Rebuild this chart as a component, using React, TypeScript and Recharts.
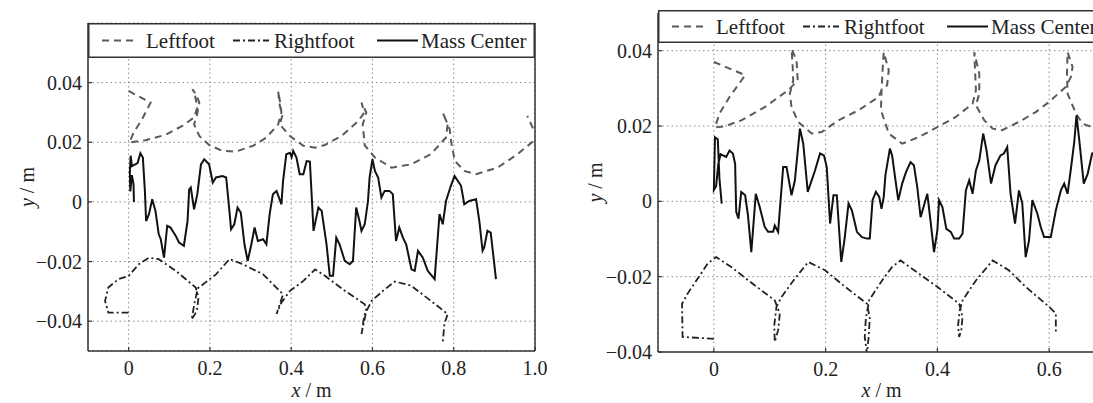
import React from "react";
import { LineChart, Line, XAxis, YAxis, CartesianGrid, Legend } from "recharts";

const FONT = "'Liberation Serif', 'DejaVu Serif', serif";

const seriesNames = ["Leftfoot", "Rightfoot", "Mass Center"];

// left panel
const leftXTicks = [0, 0.2, 0.4, 0.6, 0.8, 1.0];
const leftYTicks = [-0.04, -0.02, 0, 0.02, 0.04];

const leftFootA: [number, number][] = [
  [0, 0.0372], [0.054, 0.0333], [0.033, 0.0277], [0.012, 0.0232], [0.002, 0.0199],
  [0.041, 0.0207], [0.091, 0.0225], [0.132, 0.0255], [0.161, 0.0283], [0.169, 0.0316],
  [0.163, 0.036], [0.157, 0.0378], [0.166, 0.036], [0.174, 0.0333], [0.168, 0.029],
  [0.161, 0.026], [0.174, 0.0221], [0.198, 0.0191], [0.231, 0.0171], [0.264, 0.0169],
  [0.306, 0.0188], [0.339, 0.0216], [0.368, 0.026], [0.376, 0.03], [0.372, 0.034],
  [0.368, 0.0372], [0.371, 0.033], [0.378, 0.0288], [0.372, 0.026], [0.397, 0.0221],
  [0.43, 0.0188], [0.459, 0.0182], [0.483, 0.0191], [0.524, 0.0221], [0.565, 0.0271],
  [0.58, 0.03], [0.573, 0.0333], [0.585, 0.03], [0.576, 0.026], [0.581, 0.019],
  [0.606, 0.0149], [0.647, 0.0115], [0.695, 0.0126], [0.744, 0.016], [0.781, 0.0216],
  [0.785, 0.026], [0.773, 0.03], [0.79, 0.0244], [0.795, 0.019], [0.803, 0.0137],
  [0.826, 0.0104], [0.855, 0.0093], [0.908, 0.0115], [0.957, 0.016], [0.996, 0.0204],
  [1.008, 0.023], [0.996, 0.0244], [0.981, 0.0288],
];

const rightFootA: [number, number][] = [
  [0, -0.0371], [-0.05, -0.0371], [-0.058, -0.0332], [-0.05, -0.0287], [-0.025, -0.0259],
  [0, -0.0248], [0.025, -0.0209], [0.05, -0.0187], [0.074, -0.0192], [0.116, -0.0231],
  [0.165, -0.0287], [0.172, -0.032], [0.168, -0.0365], [0.155, -0.0395], [0.162, -0.034],
  [0.17, -0.029], [0.215, -0.0243], [0.248, -0.0192], [0.281, -0.0209], [0.331, -0.0243],
  [0.38, -0.031], [0.372, -0.0343], [0.364, -0.0376], [0.375, -0.034], [0.397, -0.0298],
  [0.43, -0.0265], [0.459, -0.0226], [0.483, -0.0248], [0.532, -0.0298], [0.581, -0.0343],
  [0.585, -0.0365], [0.573, -0.0443], [0.58, -0.038], [0.598, -0.0332], [0.626, -0.0298],
  [0.655, -0.0267], [0.695, -0.0281], [0.744, -0.0332], [0.785, -0.0376], [0.777, -0.041],
  [0.773, -0.0471],
];

const massCenterA: [number, number][] = [
  [0.013, 0.0], [0.012, 0.006], [0.008, 0.009], [0.004, 0.0035], [0.003, 0.01],
  [0.005, 0.0155], [0.008, 0.012], [0.015, 0.0125], [0.022, 0.013], [0.029, 0.0163],
  [0.035, 0.0149], [0.04, 0.0037], [0.043, -0.0064], [0.05, -0.0041], [0.058, 0.0009],
  [0.066, -0.003], [0.074, -0.0108], [0.079, -0.0125], [0.087, -0.0187], [0.095, -0.008],
  [0.103, -0.0086], [0.116, -0.0114], [0.124, -0.0136], [0.136, -0.0147], [0.145, -0.0064],
  [0.149, 0.0042], [0.153, 0.0048], [0.161, -0.0025], [0.169, 0.0026], [0.178, 0.0126],
  [0.186, 0.0143], [0.198, 0.0126], [0.207, 0.0065], [0.215, 0.0082], [0.231, 0.0087],
  [0.24, 0.0082], [0.248, -0.003], [0.252, -0.0092], [0.26, -0.0075], [0.268, -0.0019],
  [0.276, -0.0036], [0.285, -0.0142], [0.293, -0.0198], [0.302, -0.0142], [0.31, -0.0086],
  [0.318, -0.0131], [0.331, -0.0125], [0.339, -0.0142], [0.347, -0.0041], [0.355, 0.0026],
  [0.364, 0.0037], [0.376, -0.0008], [0.38, 0.007], [0.388, 0.016], [0.397, 0.0165],
  [0.401, 0.015], [0.405, 0.0171], [0.413, 0.0149], [0.421, 0.0093], [0.43, 0.0093],
  [0.438, 0.0137], [0.446, 0.0135], [0.455, -0.0097], [0.467, -0.0019], [0.475, -0.003],
  [0.487, -0.0142], [0.495, -0.0248], [0.503, -0.0248], [0.511, -0.012], [0.519, -0.0142],
  [0.532, -0.0198], [0.544, -0.0209], [0.552, -0.0198], [0.56, -0.0019], [0.568, -0.0064],
  [0.573, -0.0097], [0.581, -0.0075], [0.589, 0.0003], [0.593, 0.0082], [0.6, 0.0143],
  [0.606, 0.0104], [0.614, 0.0082], [0.622, 0.0015], [0.63, 0.0037], [0.642, 0.0037],
  [0.65, 0.0026], [0.658, -0.0131], [0.666, -0.0086], [0.675, -0.012], [0.683, -0.0142],
  [0.696, -0.0226], [0.704, -0.0231], [0.712, -0.0164], [0.724, -0.0187], [0.736, -0.0231],
  [0.753, -0.0259], [0.765, -0.0041], [0.773, -0.0075], [0.781, 0.0003], [0.793, 0.0054],
  [0.802, 0.0087], [0.818, 0.0054], [0.826, -0.0008], [0.838, 0.0003], [0.855, 0.0009],
  [0.863, -0.0064], [0.871, -0.0164], [0.875, -0.0153], [0.883, -0.0097], [0.891, -0.0103],
  [0.904, -0.0259],
];

// right panel
const rightXTicks = [0, 0.2, 0.4, 0.6];
const rightYTicks = [-0.04, -0.02, 0, 0.02, 0.04];

const leftFootB: [number, number][] = [
  [0, 0.037], [0.056, 0.0335], [0.028, 0.0277], [0.01, 0.0233], [0.002, 0.0196],
  [0.019, 0.0199], [0.049, 0.0215], [0.091, 0.025], [0.133, 0.0295], [0.15, 0.0321],
  [0.148, 0.0374], [0.139, 0.0405], [0.141, 0.036], [0.142, 0.032], [0.136, 0.0286],
  [0.139, 0.025], [0.151, 0.0211], [0.175, 0.018], [0.193, 0.0184], [0.223, 0.0215],
  [0.259, 0.0242], [0.295, 0.0277], [0.301, 0.0299], [0.31, 0.0308], [0.313, 0.0348],
  [0.304, 0.0396], [0.302, 0.035], [0.3, 0.029], [0.299, 0.0242], [0.313, 0.018],
  [0.337, 0.0153], [0.367, 0.0171], [0.4, 0.0197], [0.433, 0.0224], [0.463, 0.0259],
  [0.469, 0.0295], [0.466, 0.0396], [0.475, 0.0339], [0.475, 0.0286], [0.469, 0.0255],
  [0.484, 0.0215], [0.499, 0.0193], [0.516, 0.0189], [0.546, 0.0211], [0.576, 0.0237],
  [0.6, 0.0264], [0.63, 0.0304], [0.639, 0.033], [0.642, 0.0357], [0.633, 0.0396],
  [0.632, 0.034], [0.633, 0.0286], [0.648, 0.0233], [0.66, 0.0206], [0.677, 0.0197],
  [0.72, 0.0195],
];

const rightFootB: [number, number][] = [
  [0, -0.0365], [-0.056, -0.036], [-0.057, -0.0272], [-0.047, -0.0245], [-0.023, -0.0192],
  [-0.011, -0.0165], [0.004, -0.0148], [0.031, -0.0174], [0.073, -0.0223], [0.109, -0.0263],
  [0.118, -0.0298], [0.115, -0.0342], [0.109, -0.0373], [0.108, -0.033], [0.112, -0.028],
  [0.121, -0.0254], [0.145, -0.0205], [0.169, -0.0161], [0.199, -0.0183], [0.235, -0.0227],
  [0.274, -0.0272], [0.279, -0.031], [0.277, -0.036], [0.274, -0.0405], [0.27, -0.036],
  [0.272, -0.031], [0.278, -0.0262], [0.301, -0.021], [0.319, -0.0174], [0.334, -0.0157],
  [0.367, -0.0192], [0.4, -0.0227], [0.439, -0.0272], [0.445, -0.0307], [0.443, -0.034],
  [0.439, -0.036], [0.437, -0.033], [0.44, -0.029], [0.445, -0.0263], [0.469, -0.021],
  [0.499, -0.0157], [0.528, -0.0183], [0.558, -0.0227], [0.6, -0.028], [0.612, -0.0298],
  [0.612, -0.0351],
];

const massCenterB: [number, number][] = [
  [0.014, -0.0006], [0.01, 0.006], [0.007, 0.0165], [0.002, 0.017], [0.0, 0.003],
  [0.004, 0.004], [0.008, 0.01], [0.012, 0.0125], [0.022, 0.0118], [0.028, 0.0135],
  [0.034, 0.0127], [0.038, 0.01], [0.04, -0.0028], [0.044, -0.0046], [0.049, 0.0025],
  [0.056, 0.0016], [0.061, -0.0037], [0.067, -0.0135], [0.075, 0.002], [0.082, -0.0015],
  [0.091, -0.0068], [0.097, -0.0081], [0.106, -0.0081], [0.109, -0.0064], [0.115, -0.0081],
  [0.124, 0.0091], [0.13, 0.0091], [0.139, 0.0016], [0.145, 0.0056], [0.154, 0.0193],
  [0.16, 0.0153], [0.168, 0.0025], [0.181, 0.0082], [0.19, 0.0127], [0.197, 0.0122],
  [0.202, 0.0091], [0.208, -0.0059], [0.214, 0.0016], [0.22, 0.0016], [0.228, -0.0161],
  [0.234, -0.0099], [0.241, -0.0006], [0.247, -0.0024], [0.256, -0.0081], [0.265, -0.0095],
  [0.274, -0.0099], [0.279, -0.0099], [0.284, 0.0003], [0.29, 0.0025], [0.296, 0.0012],
  [0.3, -0.002], [0.304, 0.0012], [0.307, 0.0069], [0.315, 0.014], [0.319, 0.0122],
  [0.325, 0.0056], [0.33, 0.0003], [0.337, 0.0047], [0.344, 0.0078], [0.352, 0.0104],
  [0.358, 0.0096], [0.364, 0.0038], [0.37, -0.0042], [0.376, -0.0011], [0.382, 0.002],
  [0.388, -0.0055], [0.394, -0.0135], [0.4, -0.0077], [0.403, 0.0003], [0.409, -0.0015],
  [0.416, -0.0073], [0.424, -0.0081], [0.43, -0.0099], [0.439, -0.0099], [0.445, -0.0086],
  [0.451, 0.0029], [0.457, 0.0056], [0.463, 0.002], [0.469, 0.0082], [0.475, 0.0109],
  [0.482, 0.018], [0.488, 0.0135], [0.496, 0.0047], [0.504, 0.0096], [0.513, 0.0122],
  [0.519, 0.0127], [0.525, 0.0144], [0.531, 0.002], [0.539, -0.0059], [0.546, 0.0029],
  [0.552, -0.0006], [0.558, -0.0148], [0.564, -0.0104], [0.57, 0.0003], [0.579, -0.0033],
  [0.585, -0.0068], [0.591, -0.0095], [0.603, -0.0095], [0.612, -0.0024], [0.621, 0.0029],
  [0.627, 0.0047], [0.633, 0.002], [0.639, 0.0087], [0.645, 0.0158], [0.649, 0.0228],
  [0.654, 0.0162], [0.662, 0.0047], [0.669, 0.0073], [0.677, 0.0127], [0.69, 0.013],
];

const toPoints = (arr: [number, number][]) => arr.map(([x, y]) => ({ x, y }));

const LF = { stroke: "#5a5a5a", strokeWidth: 2, strokeDasharray: "7 5" };
const RF = { stroke: "#222", strokeWidth: 1.8, strokeDasharray: "7 3 2 3" };
const MC = { stroke: "#111", strokeWidth: 2 };

const fmtY = (v: number) => (v === 0 ? "0" : (v < 0 ? "\u2212" : "") + Math.abs(v).toFixed(2));
const fmtX = (v: number) => (v === 0 ? "0" : v.toFixed(1));

const FS = 20;
const tickStyle = { fill: "#222", fontSize: FS, fontFamily: FONT };
const axisLine = { stroke: "#333", strokeWidth: 1.5 };
const tickLine = { stroke: "#333", strokeWidth: 1.2 };

const XTitle = (props: any) => {
  const vb = props.viewBox || { x: 0, y: 0, width: 0, height: 0 };
  return (
    <text x={vb.x + vb.width / 2} y={vb.y + vb.height - 6} textAnchor="middle" fontSize={FS} fill="#222" fontFamily={FONT}>
      <tspan fontStyle="italic">x</tspan> / m
    </text>
  );
};

const YTitle = (props: any) => {
  const vb = props.viewBox || { x: 0, y: 0, width: 0, height: 0 };
  const cx = vb.x + props.dx0;
  const cy = vb.y + vb.height / 2;
  return (
    <text x={cx} y={cy} transform={`rotate(-90, ${cx}, ${cy})`} textAnchor="middle" dominantBaseline="central" fontSize={FS} fill="#222" fontFamily={FONT}>
      <tspan fontStyle="italic">y</tspan> / m
    </text>
  );
};

const legendItems = [
  { name: seriesNames[0], x1: 14, x2: 47, tx: 58, style: LF },
  { name: seriesNames[1], x1: 145, x2: 181, tx: 186, style: RF },
  { name: seriesNames[2], x1: 289, x2: 330, tx: 333, style: MC },
];

const LegendBox = ({ w, h }: { w: number; h: number }) => {
  const cy = h / 2;
  return (
    <svg width={w} height={h} style={{ display: "block" }}>
      <rect x={0.75} y={0.75} width={w - 1.5} height={h - 1.5} fill="#fff" stroke="#333" strokeWidth={1.5} />
      {legendItems.map((it) => (
        <g key={it.name}>
          <line x1={it.x1} x2={it.x2} y1={cy} y2={cy} {...it.style} />
          <text x={it.tx} y={cy + 7} fontSize={21} fill="#222" fontFamily={FONT}>
            {it.name}
          </text>
        </g>
      ))}
    </svg>
  );
};

type PanelProps = {
  margin: { top: number; right: number; bottom: number; left: number };
  yAxisWidth: number;
  xAxisHeight: number;
  xDomain: [number, number];
  yDomain: [number, number];
  xTicks: number[];
  yTicks: number[];
  lf: [number, number][];
  rf: [number, number][];
  mc: [number, number][];
  legendTop: number;
  legendHeight: number;
  yTitleX: number;
};

function Panel(p: PanelProps) {
  const plotW = 447;
  return (
    <LineChart width={560} height={403} margin={p.margin}>
      <CartesianGrid yAxisId="l" stroke="#8a8a8a" strokeWidth={1} strokeDasharray="1.5 3" />
      <XAxis
        type="number"
        dataKey="x"
        domain={p.xDomain}
        ticks={p.xTicks}
        interval={0}
        allowDataOverflow
        height={p.xAxisHeight}
        tickSize={-4}
        tickMargin={14}
        tickFormatter={fmtX}
        tick={tickStyle}
        axisLine={axisLine}
        tickLine={tickLine}
        label={<XTitle />}
      />
      <YAxis
        yAxisId="l"
        type="number"
        domain={p.yDomain}
        ticks={p.yTicks}
        interval={0}
        allowDataOverflow
        width={p.yAxisWidth}
        tickSize={-4}
        tickMargin={10}
        tickFormatter={fmtY}
        tick={tickStyle}
        axisLine={axisLine}
        tickLine={tickLine}
        label={<YTitle dx0={p.yTitleX} />}
      />
      <YAxis
        yAxisId="r"
        orientation="right"
        type="number"
        domain={p.yDomain}
        ticks={p.yTicks}
        interval={0}
        allowDataOverflow
        width={1}
        tickSize={-4}
        tick={false}
        axisLine={axisLine}
        tickLine={tickLine}
      />
      <Legend
        layout="horizontal"
        verticalAlign="middle"
        align="center"
        wrapperStyle={{ left: p.yAxisWidth, top: p.legendTop, width: plotW, height: p.legendHeight }}
        content={() => <LegendBox w={plotW} h={p.legendHeight} />}
      />
      <Line yAxisId="l" data={toPoints(p.lf)} dataKey="y" name={seriesNames[0]} type="linear" dot={false} activeDot={false} isAnimationActive={false} {...LF} />
      <Line yAxisId="l" data={toPoints(p.rf)} dataKey="y" name={seriesNames[1]} type="linear" dot={false} activeDot={false} isAnimationActive={false} {...RF} />
      <Line yAxisId="l" data={toPoints(p.mc)} dataKey="y" name={seriesNames[2]} type="linear" dot={false} activeDot={false} isAnimationActive={false} {...MC} />
    </LineChart>
  );
}

export default function App() {
  return (
    <div style={{ position: "absolute", left: 0, top: 0, width: 1093, height: 403, overflow: "hidden", background: "#fff" }}>
      <div style={{ position: "absolute", left: 0, top: 0 }}>
        <Panel
          margin={{ top: 23, right: 24, bottom: 0, left: 0 }}
          yAxisWidth={88}
          xAxisHeight={52}
          xDomain={[-0.1, 1.0]}
          yDomain={[-0.05, 0.06]}
          xTicks={leftXTicks}
          yTicks={leftYTicks}
          lf={leftFootA}
          rf={rightFootA}
          mc={massCenterA}
          legendTop={22.5}
          legendHeight={35}
          yTitleX={27}
        />
      </div>
      <div style={{ position: "absolute", left: 560, top: 0 }}>
        <Panel
          margin={{ top: 13, right: 14, bottom: 0, left: 0 }}
          yAxisWidth={98}
          xAxisHeight={51}
          xDomain={[-0.1, 0.7]}
          yDomain={[-0.04, 0.05]}
          xTicks={rightXTicks}
          yTicks={rightYTicks}
          lf={leftFootB}
          rf={rightFootB}
          mc={massCenterB}
          legendTop={10}
          legendHeight={33}
          yTitleX={35}
        />
      </div>
    </div>
  );
}
